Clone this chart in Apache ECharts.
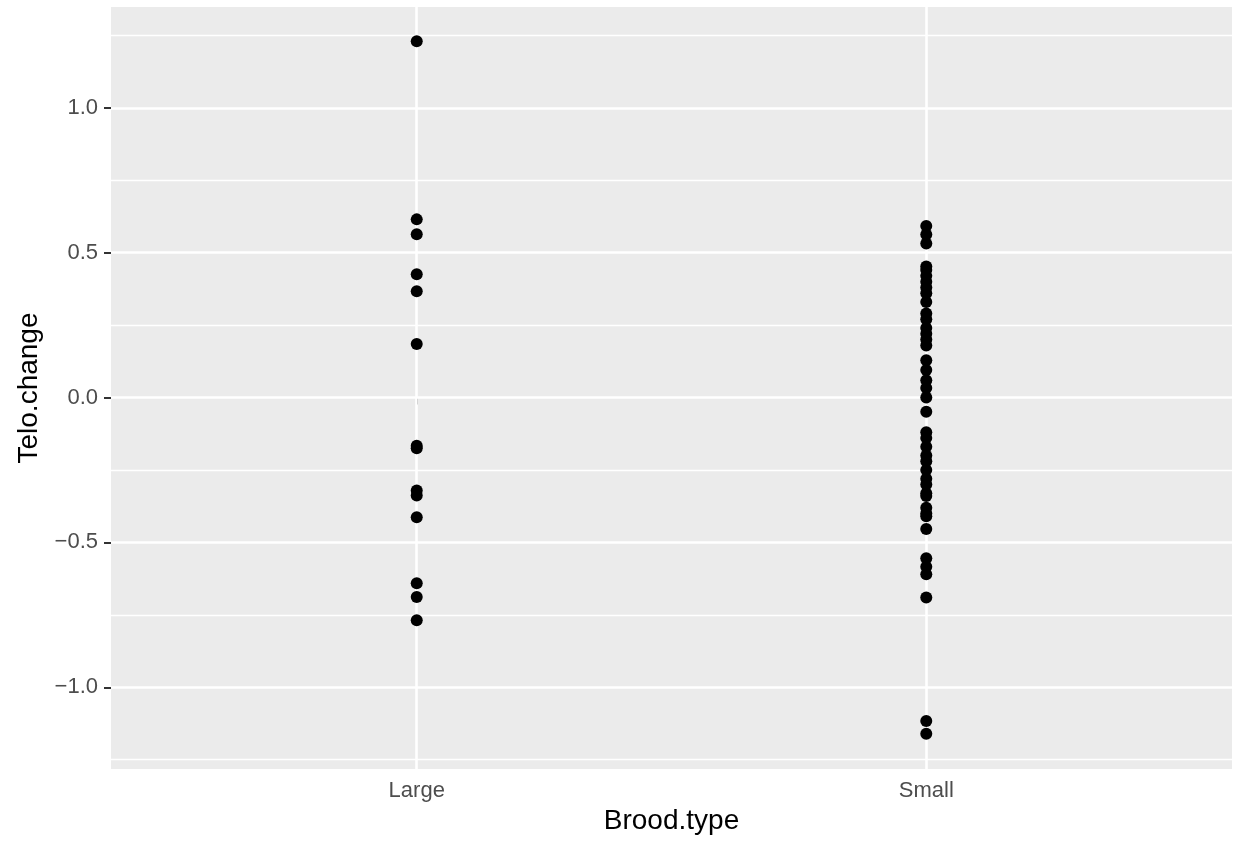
<!DOCTYPE html>
<html>
<head>
<meta charset="utf-8">
<title>Telo.change by Brood.type</title>
<script src="https://cdn.jsdelivr.net/npm/echarts@6/dist/echarts.min.js"></script>
<style>
  html, body { margin: 0; padding: 0; background: #ffffff; }
  #chart { width: 1238px; height: 845px; }
</style>
</head>
<body>
<div id="chart"></div>
<script>
// Brood types along the x axis (positions 1 and 2)
const categories = ['Large', 'Small'];

// Telomere change per individual, by brood type
const largeValues = [
  1.230, 0.615, 0.564, 0.426, 0.367, 0.185,
  -0.166, -0.175, -0.321, -0.338, -0.413, -0.641, -0.688, -0.769
];
const smallValues = [
  0.592, 0.563, 0.532, 0.452, 0.440, 0.420, 0.400, 0.380, 0.360, 0.330,
  0.290, 0.270, 0.240, 0.220, 0.200, 0.180, 0.129, 0.095, 0.060, 0.033,
  0.000, -0.049, -0.120, -0.140, -0.170, -0.200, -0.220, -0.250, -0.280,
  -0.300, -0.330, -0.340, -0.380, -0.400, -0.410, -0.454, -0.555, -0.584,
  -0.610, -0.690, -1.116, -1.160
];

// Axis ticks
const yMajorTicks = [-1.0, -0.5, 0.0, 0.5, 1.0];
const yMinorTicks = [-1.25, -0.75, -0.25, 0.25, 0.75, 1.25];
const xTicks = [1, 2];

const yMin = -1.282;
const yMax = 1.348;

const points = [];
largeValues.forEach(v => points.push([1, v]));
smallValues.forEach(v => points.push([2, v]));

function fmtY(v) {
  const s = Math.abs(v).toFixed(1);
  return v < -1e-9 ? '\u2212' + s : s;
}

const gridLine = (w) => ({ color: '#ffffff', width: w, type: 'solid' });

const chart = echarts.init(document.getElementById('chart'), null, { renderer: 'canvas' });

chart.setOption({
  animation: false,
  backgroundColor: '#ffffff',
  grid: {
    left: 111, right: 6, top: 7, bottom: 76,
    show: true, backgroundColor: '#EBEBEB', borderWidth: 0
  },
  xAxis: {
    type: 'value',
    min: 0.4, max: 2.6,
    name: 'Brood.type',
    nameLocation: 'middle',
    nameGap: 38,
    nameTextStyle: { fontFamily: 'Liberation Sans', fontSize: 28, color: '#000000' },
    axisLine: { show: false },
    splitLine: { show: false },
    axisTick: {
      show: true, length: 7, customValues: xTicks,
      lineStyle: { color: '#333333', width: 2 }
    },
    axisLabel: {
      customValues: xTicks,
      margin: 11,
      fontFamily: 'Liberation Sans', fontSize: 22, color: '#4D4D4D',
      formatter: v => categories[Math.round(v) - 1] || ''
    }
  },
  yAxis: {
    type: 'value',
    min: yMin, max: yMax,
    name: 'Telo.change',
    nameLocation: 'middle',
    nameGap: 67,
    nameRotate: 90,
    nameTextStyle: { fontFamily: 'Liberation Sans', fontSize: 28, color: '#000000' },
    axisLine: { show: false },
    splitLine: { show: false },
    axisTick: {
      show: true, length: 7, customValues: yMajorTicks,
      lineStyle: { color: '#333333', width: 2 }
    },
    axisLabel: {
      customValues: yMajorTicks,
      margin: 13,
      fontFamily: 'Liberation Sans', fontSize: 22, color: '#4D4D4D',
      formatter: fmtY
    }
  },
  series: [
    {
      // panel gridlines, kept beneath the points
      type: 'scatter',
      data: [],
      z: 1,
      silent: true,
      markLine: {
        z: 1,
        silent: true,
        symbol: ['none', 'none'],
        label: { show: false },
        animation: false,
        data: [
          ...yMinorTicks.map(v => ({ yAxis: v, lineStyle: gridLine(1.3) })),
          ...yMajorTicks.map(v => ({ yAxis: v, lineStyle: gridLine(2.6) })),
          ...xTicks.map(v => ({ xAxis: v, lineStyle: gridLine(2.6) }))
        ]
      }
    },
    {
      type: 'scatter',
      data: points,
      z: 10,
      symbol: 'circle',
      symbolSize: 12,
      itemStyle: { color: '#000000', opacity: 1 }
    }
  ]
});
</script>
</body>
</html>
